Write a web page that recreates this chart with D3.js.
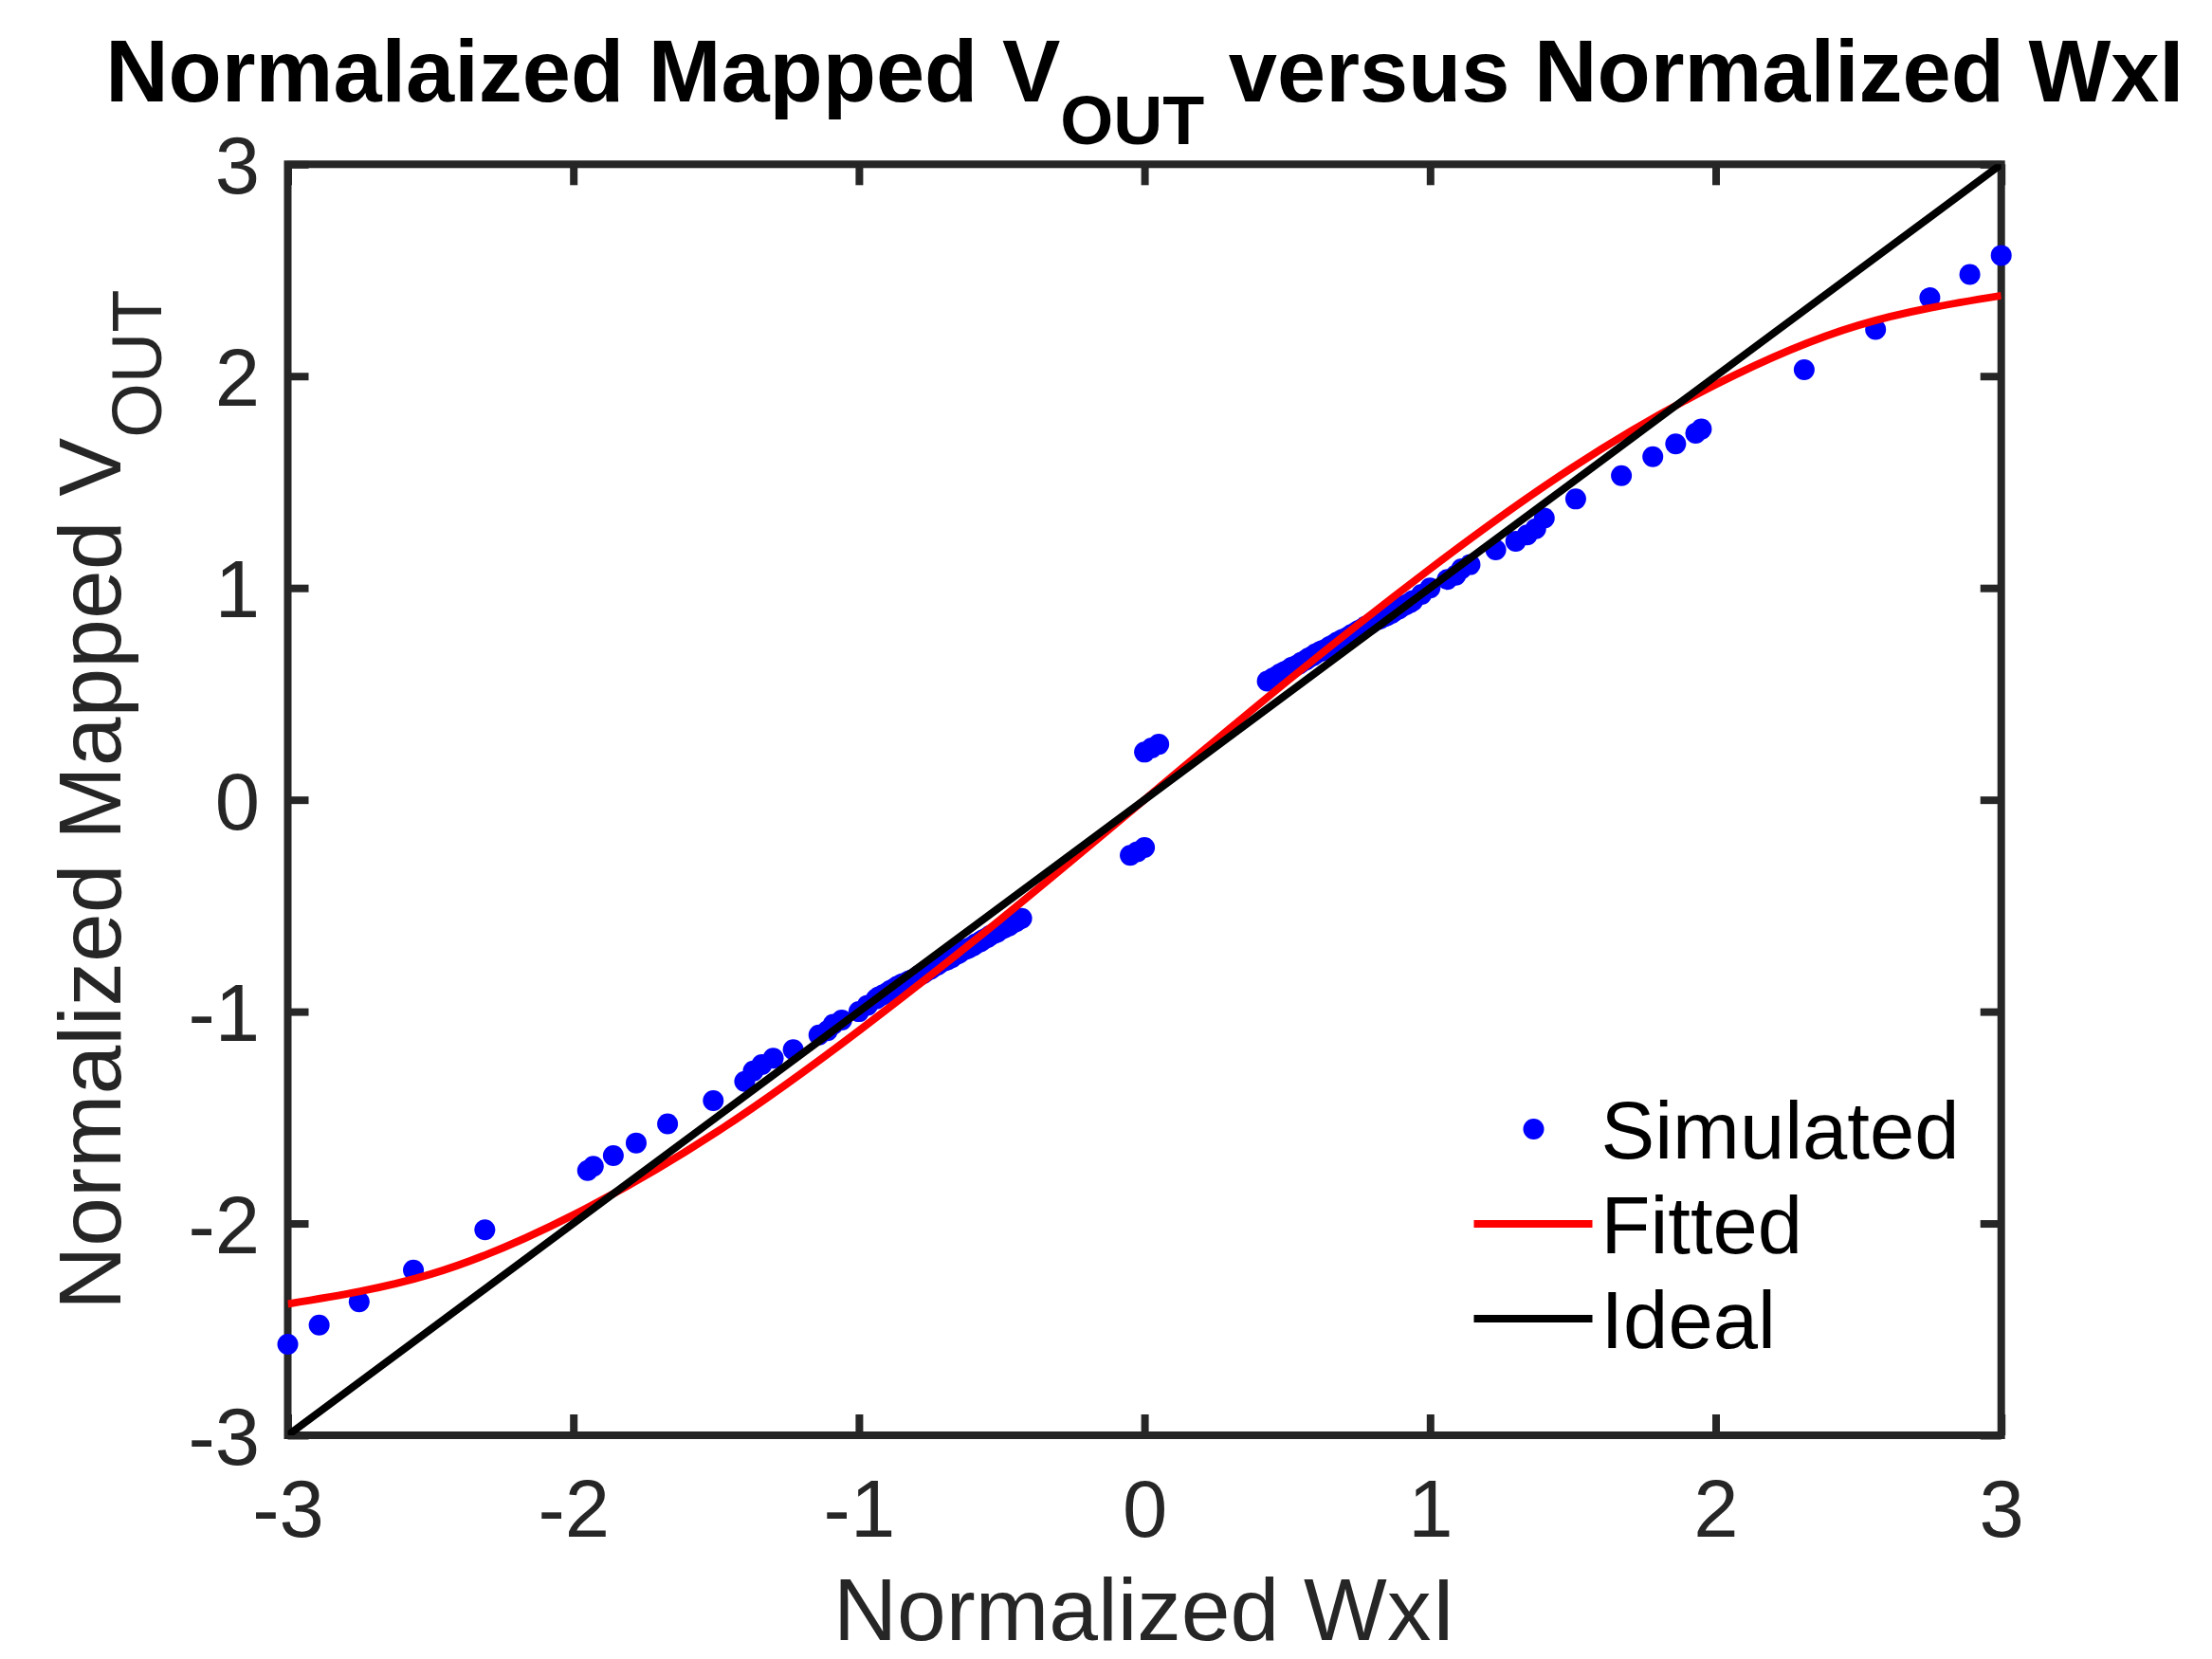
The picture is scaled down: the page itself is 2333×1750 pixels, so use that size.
<!DOCTYPE html>
<html>
<head>
  <title>Mapped Vout vs WxI</title>
  <meta charset="utf8">
  <style type="text/css">
    body { margin: 0; background: #fff; }
    svg { display: block; font-family: "Liberation Sans", Arial, Helvetica, sans-serif; }
    text { white-space: pre; }
    .axis text { font-size: 85px; fill: #262626; }
    .axis line { stroke: #262626; stroke-width: 8; }
    .axis path { display: none; }
  </style>
</head>
<body>

<script src="https://d3js.org/d3.v7.min.js"></script>

<script type="text/javascript">

// simulated points
var simX = [-3.00, -2.89, -2.75, -2.56, -2.31, -1.95, -1.93, -1.86, -1.78, -1.67,
  -1.51, -1.40, -1.37, -1.34, -1.30, -1.23, -1.14, -1.11, -1.09, -1.06,
  -1.00, -0.97,
  -0.94, -0.93, -0.915, -0.90, -0.89, -0.875, -0.865, -0.85, -0.84, -0.825,
  -0.815, -0.80, -0.79, -0.775, -0.765, -0.75, -0.74, -0.725, -0.715, -0.70,
  -0.69, -0.675, -0.665, -0.65, -0.64, -0.625, -0.615, -0.60, -0.59, -0.575,
  -0.565, -0.55, -0.54, -0.525, -0.515, -0.50, -0.49, -0.475, -0.465, -0.45,
  -0.44, -0.43,
  -0.05, -0.025, 0.00, 0.00, 0.025, 0.05,
  0.43, 0.44, 0.45, 0.465, 0.475, 0.49, 0.50, 0.515, 0.525, 0.54,
  0.55, 0.565, 0.575, 0.59, 0.60, 0.615, 0.625, 0.64, 0.65, 0.665,
  0.675, 0.69, 0.70, 0.715, 0.725, 0.74, 0.75, 0.765, 0.775, 0.79,
  0.80, 0.815, 0.825, 0.84, 0.85, 0.865, 0.875, 0.89, 0.90, 0.915,
  0.93, 0.94,
  0.97, 1.00, 1.06, 1.09, 1.11, 1.14, 1.23, 1.30,
  1.34, 1.37, 1.40, 1.51, 1.67, 1.78, 1.86, 1.93, 1.95, 2.31,
  2.56, 2.75, 2.89, 3.00]
var simY = [-2.57, -2.48, -2.37, -2.22, -2.03, -1.75, -1.73, -1.68, -1.62, -1.53,
  -1.42, -1.33, -1.28, -1.25, -1.22, -1.18, -1.11, -1.09, -1.06, -1.04,
  -1.00, -0.97,
  -0.94, -0.93, -0.92, -0.91, -0.90, -0.89, -0.88, -0.87, -0.865, -0.855,
  -0.85, -0.84, -0.83, -0.82, -0.81, -0.80, -0.79, -0.78, -0.77, -0.76,
  -0.755, -0.745, -0.735, -0.725, -0.715, -0.705, -0.70, -0.69, -0.68, -0.67,
  -0.66, -0.65, -0.64, -0.63, -0.625, -0.61, -0.605, -0.595, -0.585, -0.575,
  -0.565, -0.56,
  -0.262, -0.245, -0.225, 0.225, 0.245, 0.262,
  0.56, 0.565, 0.575, 0.585, 0.595, 0.605, 0.61, 0.625, 0.63, 0.64,
  0.65, 0.66, 0.67, 0.68, 0.69, 0.70, 0.705, 0.715, 0.725, 0.735,
  0.745, 0.755, 0.76, 0.77, 0.78, 0.79, 0.80, 0.81, 0.82, 0.83,
  0.84, 0.85, 0.855, 0.865, 0.87, 0.88, 0.89, 0.90, 0.91, 0.92,
  0.93, 0.94,
  0.97, 1.00, 1.04, 1.06, 1.09, 1.11, 1.18, 1.22,
  1.25, 1.28, 1.33, 1.42, 1.53, 1.62, 1.68, 1.73, 1.75, 2.03,
  2.22, 2.37, 2.48, 2.57]

// fitted curve samples
var fitX = [-3, -2.5, -2, -1.5, -1, -0.5, 0, 0.5, 1, 1.5, 2, 2.5, 3]
var fitY = [-2.38, -2.24, -1.96, -1.57, -1.09, -0.56, 0, 0.56, 1.09, 1.57, 1.96, 2.24, 2.38]

var idealX = [-3, 3]
var idealY = [-3, 3]

var xTicks = [-3, -2, -1, 0, 1, 2, 3]
var yTicks = [-3, -2, -1, 0, 1, 2, 3]

var legendNames = ['Simulated', 'Fitted', 'Ideal']

var width = 2333, height = 1750
var pLeft = 303.5, pRight = 2110.7, pTop = 173.3, pBottom = 1514
var tick = 22

var svg = d3.select('body').append('svg')
    .attr('width', width)
    .attr('height', height)

var x = d3.scaleLinear().domain([-3, 3]).range([pLeft, pRight])
var y = d3.scaleLinear().domain([-3, 3]).range([pBottom, pTop])

svg.append('clipPath')
    .attr('id', 'plot-clip')
  .append('rect')
    .attr('x', pLeft).attr('y', pTop)
    .attr('width', pRight - pLeft).attr('height', pBottom - pTop)

// axes, ticks pointing inward
svg.append('g')
    .attr('class', 'axis')
    .attr('transform', 'translate(0,' + pBottom + ')')
    .call(d3.axisBottom(x).tickValues(xTicks).tickSizeInner(-tick).tickSizeOuter(0)
      .tickPadding(46.6).tickFormat(function(d) { return String(d) }))

svg.append('g')
    .attr('class', 'axis')
    .attr('transform', 'translate(0,' + pTop + ')')
    .call(d3.axisTop(x).tickValues(xTicks).tickSizeInner(-tick).tickSizeOuter(0).tickFormat(''))

svg.append('g')
    .attr('class', 'axis')
    .attr('transform', 'translate(' + pLeft + ',0)')
    .call(d3.axisLeft(y).tickValues(yTicks).tickSizeInner(-tick).tickSizeOuter(0)
      .tickPadding(29.5).tickFormat(function(d) { return String(d) }))
  .selectAll('text')
    .attr('dy', '0.36em')

svg.append('g')
    .attr('class', 'axis')
    .attr('transform', 'translate(' + pRight + ',0)')
    .call(d3.axisRight(y).tickValues(yTicks).tickSizeInner(-tick).tickSizeOuter(0).tickFormat(''))

svg.append('rect')
    .attr('x', pLeft).attr('y', pTop)
    .attr('width', pRight - pLeft).attr('height', pBottom - pTop)
    .style('fill', 'none')
    .style('stroke', '#262626')
    .style('stroke-width', 8)

// data
var sim = d3.zip(simX, simY)
var fit = d3.zip(fitX, fitY)
var ideal = d3.zip(idealX, idealY)

svg.append('g')
    .selectAll('circle')
    .data(sim)
    .enter()
    .append('circle')
    .attr('cx', function(d) { return x(d[0]) })
    .attr('cy', function(d) { return y(d[1]) })
    .attr('r', 11)
    .style('fill', '#0000ff')

var line = d3.line()
    .x(function(d) { return x(d[0]) })
    .y(function(d) { return y(d[1]) })

svg.append('path')
    .attr('clip-path', 'url(#plot-clip)')
    .attr('d', line.curve(d3.curveNatural)(fit))
    .style('fill', 'none')
    .style('stroke', '#ff0000')
    .style('stroke-width', 8)

svg.append('path')
    .attr('clip-path', 'url(#plot-clip)')
    .attr('d', line.curve(d3.curveLinear)(ideal))
    .style('fill', 'none')
    .style('stroke', '#000')
    .style('stroke-width', 8)

// title
var title = svg.append('text')
    .attr('x', (pLeft + pRight) / 2)
    .attr('y', 107.3)
    .attr('text-anchor', 'middle')
    .style('font-weight', 'bold')
    .style('font-size', '92px')
    .style('fill', '#000')
title.append('tspan').text('Normalaized Mapped V')
title.append('tspan').attr('dy', 45).style('font-size', '72px').text('OUT')
title.append('tspan').attr('dy', -45).text(' versus Normalized WxI')

// axis labels
svg.append('text')
    .attr('x', (pLeft + pRight) / 2)
    .attr('y', 1730)
    .attr('text-anchor', 'middle')
    .style('font-size', '93px')
    .style('fill', '#262626')
    .text('Normalized WxI')

var ylab = svg.append('text')
    .attr('transform', 'translate(127.3,' + (pTop + pBottom) / 2 + ') rotate(-90)')
    .attr('text-anchor', 'middle')
    .style('font-size', '93px')
    .style('fill', '#262626')
ylab.append('tspan').text('Normalized Mapped V')
ylab.append('tspan').attr('dy', 43).style('font-size', '74px').text('OUT')

// legend, no box
var legend = svg.append('g')
    .attr('transform', 'translate(1554.5,1191)')

var rows = legend.selectAll('g')
    .data(legendNames)
    .enter()
    .append('g')
    .attr('transform', function(d, i) { return 'translate(0,' + i * 100 + ')' })

rows.filter(function(d, i) { return i === 0 })
  .append('circle')
    .attr('cx', 63)
    .attr('cy', 0)
    .attr('r', 11)
    .style('fill', '#0000ff')

rows.filter(function(d, i) { return i > 0 })
  .append('line')
    .attr('x1', 0).attr('x2', 125)
    .attr('y1', 0).attr('y2', 0)
    .style('stroke', function(d, i) { return i === 0 ? '#ff0000' : '#000' })
    .style('stroke-width', 8)

rows.append('text')
    .attr('x', 134)
    .attr('y', 31)
    .style('font-size', '85px')
    .style('fill', '#000')
    .text(function(d) { return d })

</script>

</body>
</html>
